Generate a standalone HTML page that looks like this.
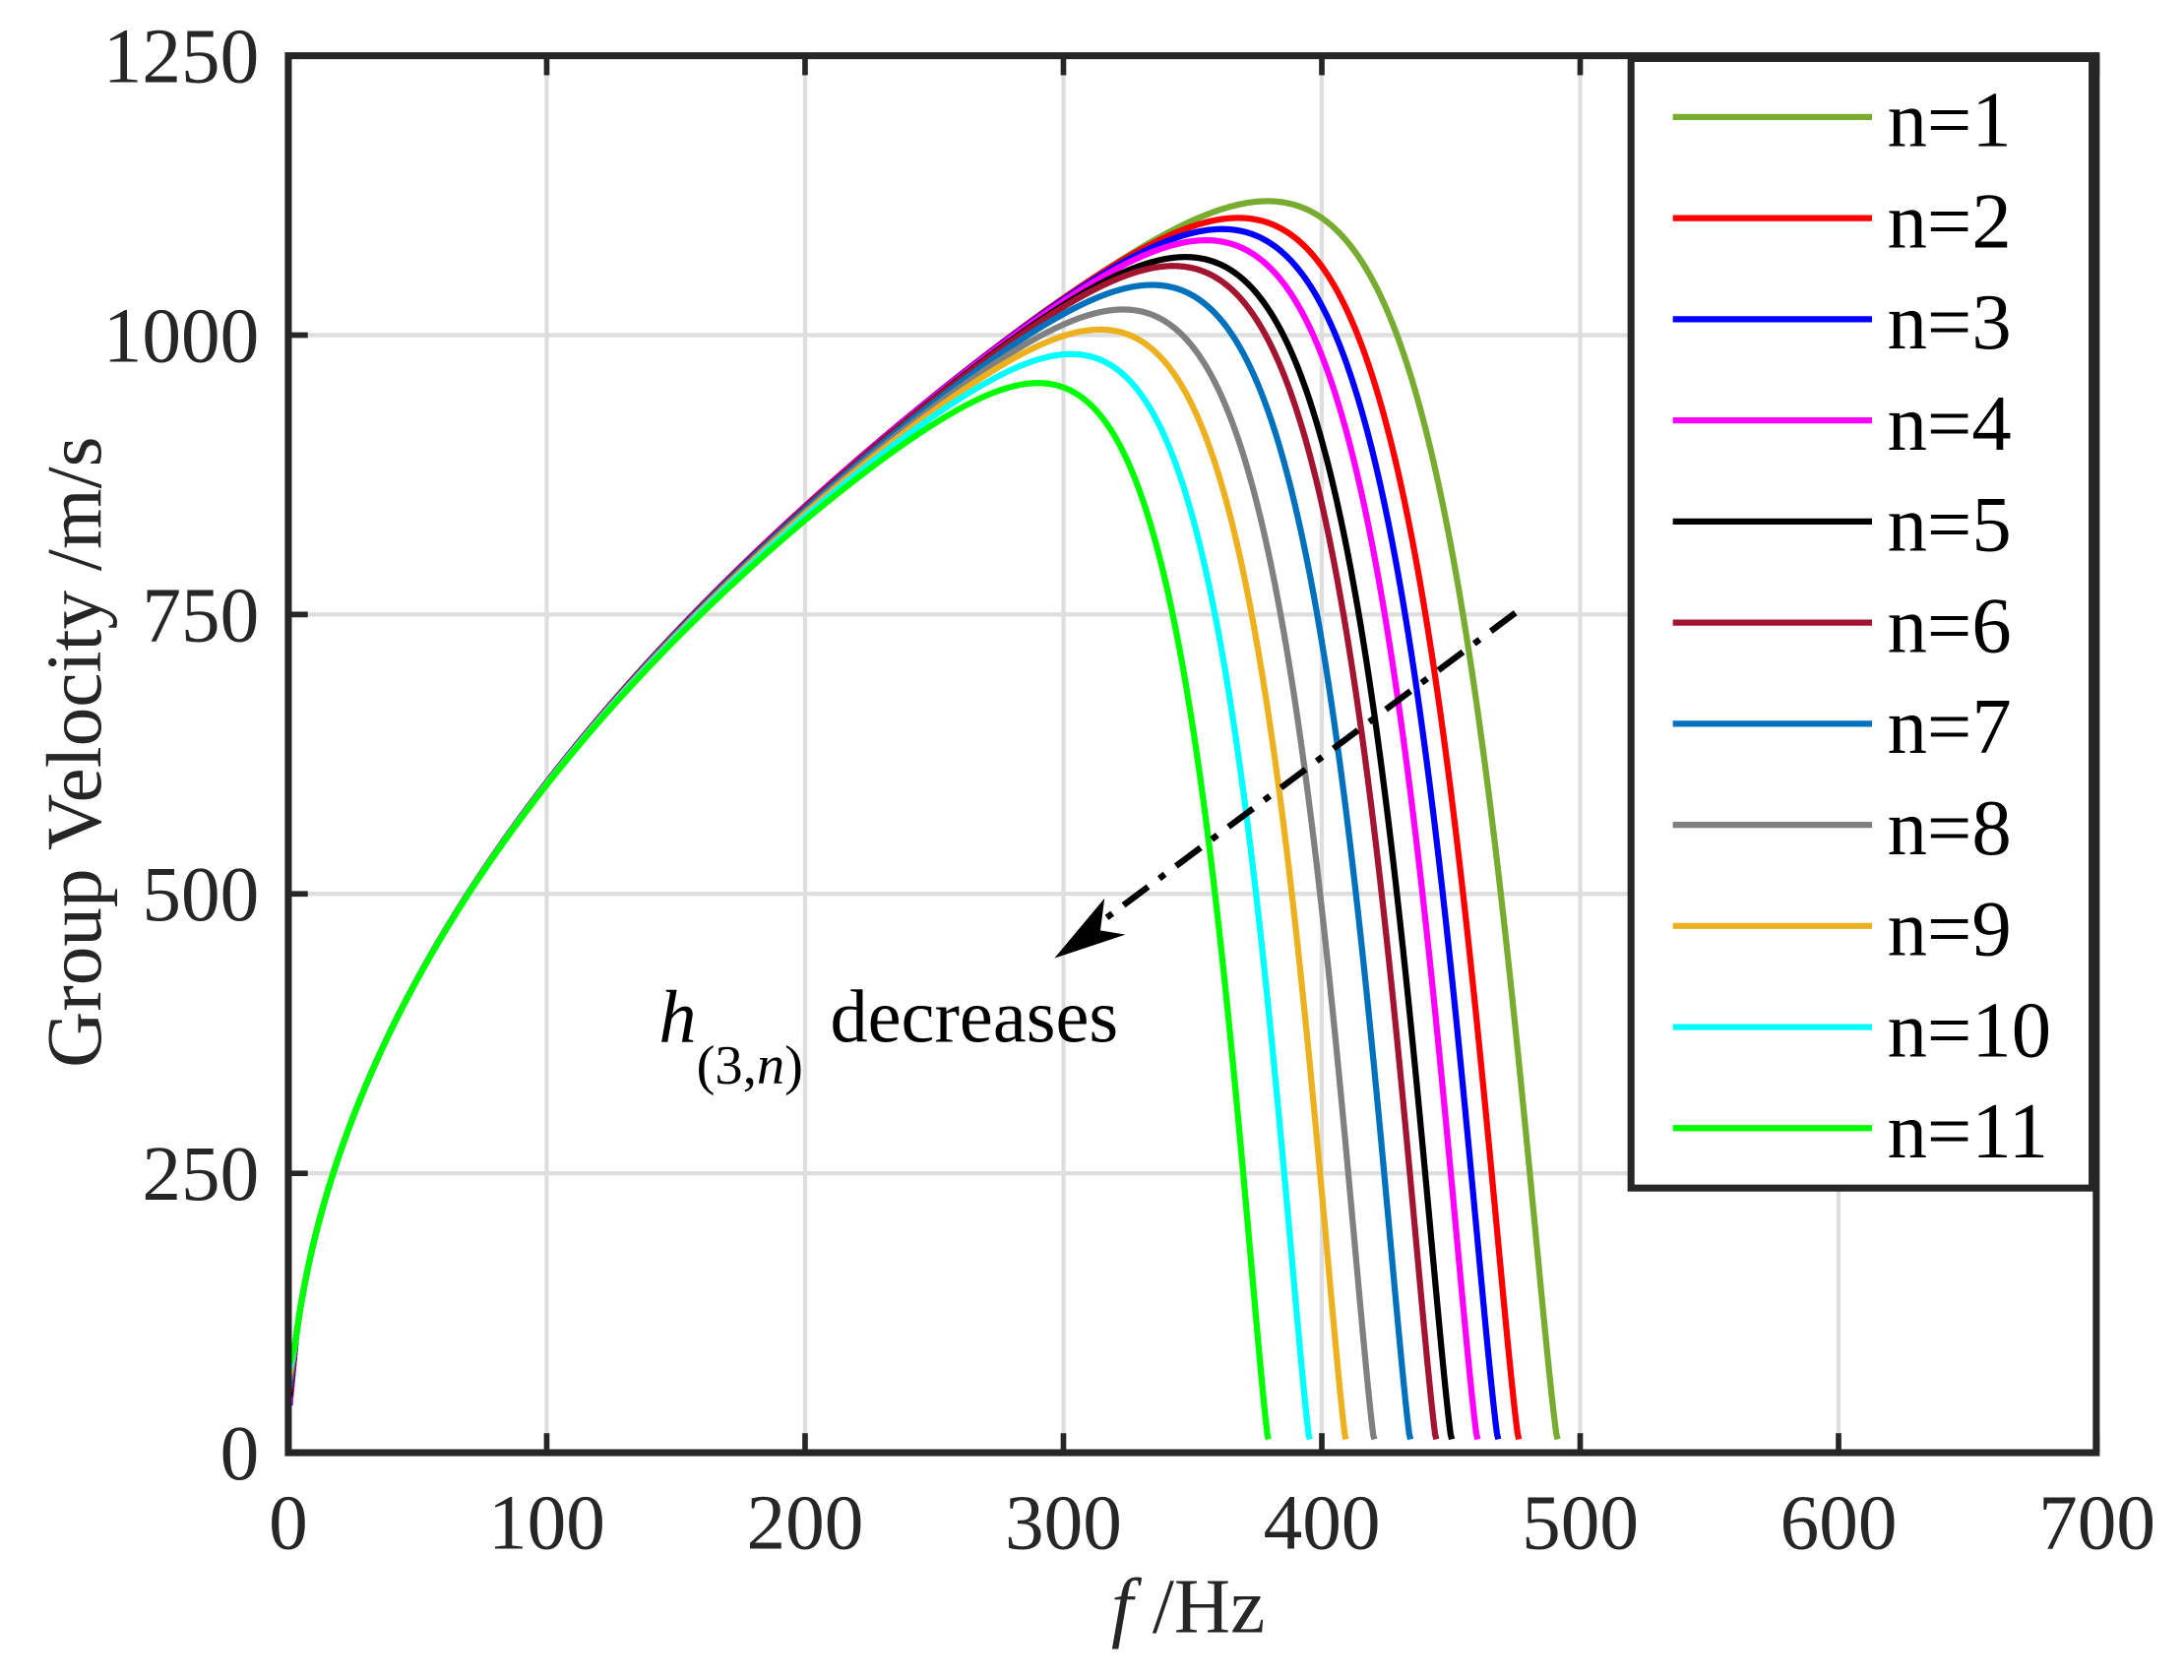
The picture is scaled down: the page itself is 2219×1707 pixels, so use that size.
<!DOCTYPE html>
<html><head><meta charset="utf-8"><style>html,body{margin:0;padding:0;background:#fff}svg{display:block}svg text{font-family:"Liberation Serif","Times New Roman",serif}</style></head>
<body>
<svg id="s" width="2219" height="1707" viewBox="0 0 1568 1206.2" xmlns="http://www.w3.org/2000/svg" fill="#262626">
<rect width="1568" height="1206.2" fill="#fff"/>
<g id="grid" stroke="#dedede" stroke-width="3"></g>
<g id="curves" fill="none" stroke-width="4.4" stroke-linejoin="round"></g>
<g id="axes"></g>
<rect x="1171" y="42" width="331" height="811" fill="#fff" stroke="#262626" stroke-width="5"/>
<g id="leg" font-size="57" fill="#000" font-family="Liberation Serif, serif"></g>
<line x1="1088" y1="440" x2="785" y2="666" stroke="#000" stroke-width="4.5" stroke-dasharray="22,10,5,10"/>
<polygon points="757,688 793,645 790,668 808,671" fill="#000"/>
<text x="473" y="748" font-size="54" font-style="italic" fill="#000">h</text>
<text x="500" y="778" font-size="40" fill="#000">(3,<tspan font-style="italic">n</tspan>)</text>
<text x="596" y="748" font-size="54" fill="#000">decreases</text>
<text transform="translate(72,540) rotate(-90)" text-anchor="middle" font-size="56">Group Velocity /m/s</text>
<text x="853" y="1172" text-anchor="middle" font-size="56"><tspan font-style="italic">f</tspan> /Hz</text>
</svg>
<script>
var NS="http://www.w3.org/2000/svg";
function el(p,t,a,txt){var e=document.createElementNS(NS,t);for(var k in a)e.setAttribute(k,a[k]);if(txt!==undefined)e.textContent=txt;document.getElementById(p).appendChild(e);return e;}
var X0=207,SX=1.855,Y0=1043,SY=0.8024;
function X(f){return X0+f*SX}function Y(v){return Y0-v*SY}
for(var f=100;f<=600;f+=100)el('grid','line',{x1:X(f),y1:40,x2:X(f),y2:1043});
for(var v=250;v<=1000;v+=250)el('grid','line',{x1:207,y1:Y(v),x2:1505,y2:Y(v)});
var cols=['#77ac30','#ff0000','#0000ff','#ff00ff','#000000','#a2142f','#0072bd','#808080','#edb120','#00ffff','#00ff00'];
var fcs=[492,477,469,461,451,445,435,421,410,396,380];
var pk=[1120,1105,1095,1085,1070,1062,1045,1023,1005,983,957];
for(var i=0;i<11;i++){
 var fc=fcs[i],d='';
 var model=50.9*Math.sqrt(fc), s=(1-pk[i]/model)/0.593;
 for(var k=0;k<=700;k++){
  var f=0.5+(fc*0.9985-0.5)*Math.pow(k/700,0.8);
  var x=f/fc; var vv=60.0*Math.sqrt(f)*Math.pow(1-Math.pow(x,14),1.3)*(1-s*x*x);
  if(k==0)vv=Math.max(vv,30+i*5);
  if(vv<12)vv=12;
  d+=(k?'L':'M')+X(f).toFixed(2)+','+Y(vv).toFixed(2);
 }
 el('curves','path',{d:d,stroke:cols[i]});
}
el('axes','rect',{x:207,y:40,width:1298,height:1003,fill:'none',stroke:'#262626','stroke-width':5});
for(var f=0;f<=700;f+=100){
 el('axes','line',{x1:X(f),y1:1043,x2:X(f),y2:1029,stroke:'#262626','stroke-width':4});
 el('axes','line',{x1:X(f),y1:40,x2:X(f),y2:54,stroke:'#262626','stroke-width':4});
 el('axes','text',{x:X(f),y:1112,'text-anchor':'middle','font-size':56},String(f));
}
for(var v=0;v<=1250;v+=250){
 el('axes','line',{x1:207,y1:Y(v),x2:221,y2:Y(v),stroke:'#262626','stroke-width':4});
 el('axes','line',{x1:1505,y1:Y(v),x2:1491,y2:Y(v),stroke:'#262626','stroke-width':4});
 el('axes','text',{x:186,y:Y(v)+19,'text-anchor':'end','font-size':56},String(v));
}
for(var i=0;i<11;i++){
 var y=84+i*72.6;
 el('leg','line',{x1:1201,y1:y,x2:1344,y2:y,stroke:cols[i],'stroke-width':4.4});
 el('leg','text',{x:1355,y:y+21},'n='+(i+1));
}
</script>
</body></html>
